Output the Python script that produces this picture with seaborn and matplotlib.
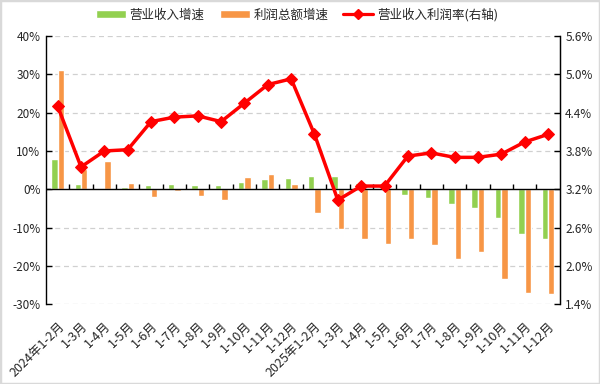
"""Revenue growth, profit growth and profit margin, 2024-2025."""
import matplotlib

matplotlib.use("Agg")
import matplotlib.pyplot as plt
import matplotlib.ticker as mticker
import numpy as np
import pandas as pd
import seaborn as sns
from matplotlib.lines import Line2D
from matplotlib.patches import Patch, Rectangle

# Data
periods = [
    "2024年1-2月", "1-3月", "1-4月", "1-5月", "1-6月", "1-7月", "1-8月",
    "1-9月", "1-10月", "1-11月", "1-12月",
    "2025年1-2月", "1-3月", "1-4月", "1-5月", "1-6月", "1-7月", "1-8月",
    "1-9月", "1-10月", "1-11月", "1-12月",
]
revenue_growth = [7.8, 1.5, 0.3, 0.6, 1.1, 1.4, 1.1, 1.1, 2.0, 2.6, 2.9,
                  3.4, 3.4, 1.7, 0.1, -1.6, -2.4, -3.8, -5.0, -7.5, -11.7, -12.9]
profit_growth = [31.1, 5.2, 7.4, 1.7, -2.0, -0.4, -1.7, -2.7, 3.2, 3.9, 1.5,
                 -6.1, -10.3, -13.1, -14.2, -13.1, -14.5, -18.2, -16.5, -23.5, -27.1, -27.4]
profit_margin = [4.50, 3.55, 3.80, 3.82, 4.26, 4.33, 4.35, 4.26, 4.55, 4.84, 4.93,
                 4.06, 3.03, 3.25, 3.25, 3.72, 3.77, 3.70, 3.70, 3.75, 3.94, 4.06]

series_names = ["营业收入增速", "利润总额增速"]
line_name = "营业收入利润率(右轴)"
colors = {"营业收入增速": "#92D050", "利润总额增速": "#F79646"}
line_color = "#FF0000"
grid_color = "#D0D0D0"
text_color = "#262626"


def main() -> None:
    sns.set_style("white")
    plt.rcParams["font.family"] = ["Noto Sans CJK SC", "DejaVu Sans"]
    plt.rcParams["axes.unicode_minus"] = False

    idx = np.arange(len(periods))
    df = pd.DataFrame({
        "idx": np.concatenate([idx, idx]),
        "series": [series_names[0]] * len(idx) + [series_names[1]] * len(idx),
        "value": revenue_growth + profit_growth,
    })

    fig = plt.figure(figsize=(6, 3.84), dpi=100)
    ax = fig.add_axes([0.0767, 0.208, 0.856, 0.698])

    sns.barplot(data=df, x="idx", y="value", hue="series", hue_order=series_names,
                palette=colors, width=0.55, ax=ax, legend=False, saturation=1)

    ax.set_xlim(-0.5, len(periods) - 0.5)
    ax.set_ylim(-30, 40)
    ax.yaxis.set_major_locator(mticker.MultipleLocator(10))
    ax.yaxis.set_major_formatter(mticker.FuncFormatter(lambda v, _: f"{v:.0f}%"))
    ax.set_xlabel("")
    ax.set_ylabel("")

    # dashed gridlines and a solid zero line with boundary ticks
    for v in np.arange(-30, 41, 10):
        if v != 0:
            ax.axhline(v, color=grid_color, lw=0.9, ls=(0, (4, 3)), zorder=0)
    ax.axhline(0, color="black", lw=1.0, zorder=3)
    ax.vlines(idx[1:] - 0.5, 0, 1.3, color="black", lw=1.0, zorder=3)

    ax.set_xticks(idx)
    ax.set_xticklabels(periods, rotation=45, ha="right", rotation_mode="anchor",
                       fontsize=9, color=text_color)
    ax.tick_params(axis="x", length=0, pad=11)
    ax.tick_params(axis="y", direction="in", length=4, width=1, color="black",
                   labelsize=8.5, labelcolor=text_color, pad=4)

    for side in ["top", "bottom"]:
        ax.spines[side].set_visible(False)
    ax.spines["left"].set_color("black")
    ax.spines["left"].set_linewidth(1.0)

    # right axis: profit margin line
    ax2 = ax.twinx()
    sns.lineplot(x=idx, y=profit_margin, ax=ax2, color=line_color, lw=2.5,
                 marker="D", markersize=6.5, markeredgecolor=line_color, zorder=5)
    ax2.set_ylim(1.4, 5.6)
    ax2.yaxis.set_major_locator(mticker.FixedLocator(np.arange(1.4, 5.61, 0.6)))
    ax2.yaxis.set_major_formatter(mticker.FuncFormatter(lambda v, _: f"{v:.1f}%"))
    ax2.tick_params(axis="y", direction="in", length=4, width=1, color="black",
                    labelsize=8.5, labelcolor=text_color, pad=4)
    for side in ["top", "bottom", "left"]:
        ax2.spines[side].set_visible(False)
    ax2.spines["right"].set_color("black")
    ax2.spines["right"].set_linewidth(1.0)
    ax2.set_xlim(-0.5, len(periods) - 0.5)

    handles = [
        Patch(facecolor=colors[series_names[0]]),
        Patch(facecolor=colors[series_names[1]]),
        Line2D([], [], color=line_color, lw=2.3, marker="D", markersize=5),
    ]
    fig.legend(handles, series_names + [line_name], loc="center",
               bbox_to_anchor=(0.495, 0.962), ncol=3, frameon=False, fontsize=9,
               handlelength=2.4, handleheight=0.55, columnspacing=1.2,
               handletextpad=0.3, labelcolor=text_color)

    # light chart-area border
    fig.add_artist(Rectangle((0, 0), 1, 1, transform=fig.transFigure, fill=False,
                             edgecolor="#D9D9D9", lw=2.5))

    fig.savefig("out.png", dpi=100)
    plt.close(fig)


if __name__ == "__main__":
    main()
